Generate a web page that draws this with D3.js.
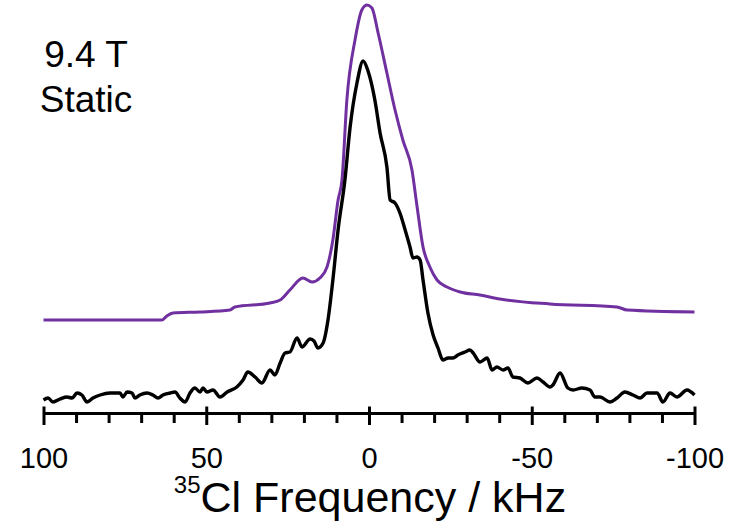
<!DOCTYPE html>
<html>
<head>
<meta charset="utf-8">
<script src="https://cdn.jsdelivr.net/npm/d3@7"></script>
<style>
  html, body { margin: 0; padding: 0; background: #fff; }
  svg { display: block; }
  text { font-family: "Liberation Sans", Arial, sans-serif; fill: #000; }
</style>
</head>
<body>
<svg id="chart" width="731" height="528"></svg>
<script>
// Simulated spectrum (purple): frequency in kHz and intensity (arbitrary units)
const simFreq = [100, 63.6, 62.1, 60.2, 51.9, 42.7, 41.2, 30.4, 27.3, 24.3, 20.3, 17.5, 15.1, 12.9,
  11.1, 9.5, 8.3, 6.8, 4.3, 2.2, 0.6, -0.9, -2.8, -5.5, -8.0, -10.4, -13.2, -14.7, -16.6, -18.7,
  -20.9, -24.0, -28.0, -34.1, -40.2, -55.6, -76.2, -79.3, -100];
const simInt = [21.25, 21.25, 22.25, 23, 23.25, 23.75, 24.5, 25.5, 26.25, 28.75, 31.75, 30.75, 31.75, 34.5,
  41.25, 51.25, 56.25, 76.25, 91.25, 98.75, 100, 99.25, 93, 83, 73.75, 66.25, 58.75, 50, 39.5, 34.5,
  31.25, 29.5, 28.25, 27.5, 26.5, 25.25, 24.5, 23.75, 23.25];

// Experimental spectrum (black)
const expFreq = [100, 98.6, 97.1, 94.9, 92.8, 91.2, 89.7, 88.2, 86.6, 84.8, 82.6, 79.6, 76.5, 75.6,
  74.3, 72.8, 71.9, 70.4, 68.2, 66.4, 64.8, 63.3, 61.1, 59.6, 58.1, 56.5, 55.0, 53.5, 51.9, 51.0,
  49.8, 47.9, 45.8, 43.6, 40.6, 38.7, 37.2, 35.0, 32.9, 30.4, 28.9, 27.3, 25.8, 24.3, 22.1, 20.6,
  18.1, 16.9, 15.7, 14.1, 12.6, 11.1, 9.5, 7.4, 5.8, 3.7, 1.8, 0.3, -1.8, -3.4, -5.5, -6.5, -8.0,
  -9.5, -11.1, -12.6, -13.5, -14.7, -15.7, -16.6, -18.1, -19.7, -21.2, -22.7, -24.3, -25.8, -27.3,
  -29.5, -31.0, -32.0, -34.1, -36.3, -37.8, -39.3, -41.2, -42.7, -44.2, -46.4, -48.8, -51.6, -53.5,
  -55.6, -56.5, -58.7, -61.1, -62.7, -65.4, -67.9, -69.4, -71.0, -74.0, -76.2, -78.6, -81.1, -83.3,
  -85.4, -88.5, -90.3, -92.5, -94.6, -97.7, -100];
const expInt = [1.25, 1.75, 0.75, 1.5, 2, 1.75, 3, 2.5, 0.75, 1.75, 2.5, 3, 3, 2,
  3.25, 3, 1.75, 2.5, 3, 2.5, 1.75, 2.5, 3, 3.25, 1.75, 0.75, 3, 4.25, 3.25, 4.25,
  3.25, 3.75, 2, 3.25, 4.5, 6.25, 8.25, 7, 5.5, 8.75, 7.5, 10.5, 13, 13.25, 16.75, 14.5,
  16.5, 16, 14.25, 15.5, 21.25, 31.25, 43.75, 56.25, 69.5, 80.5, 86, 83.5, 76.25, 68, 59.5, 51.25, 50.5,
  48, 43.75, 39.5, 36.75, 37, 36.25, 31.25, 23, 17.5, 14.25, 11.25, 11.75, 11.75, 12.5,
  13.25, 13.75, 13, 10.75, 11.75, 8.75, 9.5, 8.75, 9.25, 7, 6.75, 5.5, 6.75, 5.75,
  4.5, 5, 8, 4.25, 3.75, 4.25, 3.75, 2, 2, 0.75, 1.75, 3.25, 2.5, 1.75,
  3, 3, 0.75, 3, 2, 3.75, 2.5];

const majorTicks = [100, 50, 0, -50, -100];
const minorTicks = [90, 80, 70, 60, 40, 30, 20, 10, -10, -20, -30, -40, -60, -70, -80, -90];
const fieldLabel = ["9.4 T", "Static"];

const svg = d3.select("#chart");

// Frequency axis runs high-to-low, as usual for NMR spectra
const x = d3.scaleLinear().domain([100, -100]).range([43.5, 694.5]);
const y = d3.scaleLinear().domain([0, 100]).range([405, 5]);
const axisY = 413;

const line = d3.line()
  .x(d => x(d[0]))
  .y(d => y(d[1]))
  .curve(d3.curveMonotoneX);

svg.append("path")
  .datum(simFreq.map((f, i) => [f, simInt[i]]))
  .attr("d", line)
  .attr("fill", "none")
  .attr("stroke", "#7030a0")
  .attr("stroke-width", 3)
  .attr("stroke-linejoin", "round");

svg.append("path")
  .datum(expFreq.map((f, i) => [f, expInt[i]]))
  .attr("d", line)
  .attr("fill", "none")
  .attr("stroke", "#000")
  .attr("stroke-width", 3.4)
  .attr("stroke-linejoin", "round");

// Minor ticks (below the axis only)
const minorAxis = svg.append("g")
  .attr("transform", `translate(0,${axisY})`)
  .call(d3.axisBottom(x).tickValues(minorTicks).tickSize(10).tickFormat(""));
minorAxis.select(".domain").remove();
minorAxis.selectAll(".tick line").attr("stroke-width", 3);

// Major ticks crossing the axis line, with plain-hyphen labels
const majorAxis = svg.append("g")
  .attr("transform", `translate(0,${axisY})`)
  .call(d3.axisBottom(x).tickValues(majorTicks).tickSize(12).tickSizeOuter(0).tickPadding(22).tickFormat(d => String(d)));
majorAxis.select(".domain").attr("stroke-width", 3);
majorAxis.selectAll(".tick line").attr("y1", -6.5).attr("stroke-width", 3);
majorAxis.selectAll(".tick text")
  .attr("font-size", 29)
  .attr("font-family", "'Liberation Sans', Arial, sans-serif")
  .attr("fill", "#000");

// Axis title with superscript isotope number
const title = svg.append("text")
  .attr("x", 370)
  .attr("y", 512)
  .attr("text-anchor", "middle")
  .attr("font-size", 43);
title.append("tspan").attr("font-size", 24).attr("dy", -19).text("35");
title.append("tspan").attr("dy", 19).text("Cl Frequency / kHz");

// Field strength / condition label
svg.selectAll(".field-label")
  .data(fieldLabel)
  .join("text")
  .attr("class", "field-label")
  .attr("x", 86)
  .attr("y", (d, i) => 67 + i * 45)
  .attr("text-anchor", "middle")
  .attr("font-size", 37)
  .text(d => d);
</script>
</body>
</html>
